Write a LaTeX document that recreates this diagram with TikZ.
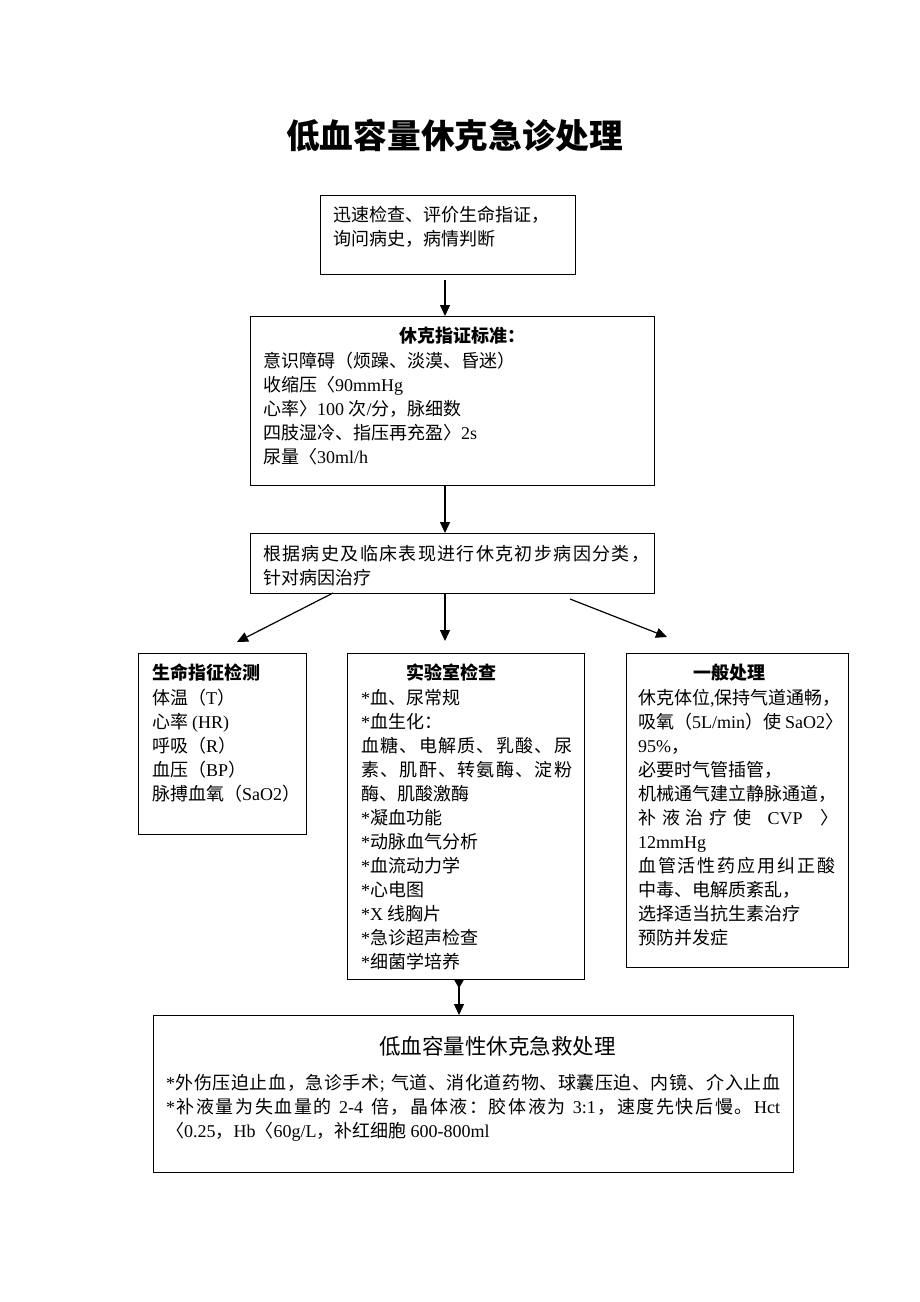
\documentclass[tikz,border=0pt]{standalone}
\usepackage{fontspec}
\setmainfont{Liberation Serif}
\newfontfamily\cjkf{Noto Sans CJK SC}
\newfontfamily\latf{Liberation Serif}
\usetikzlibrary{arrows.meta}
\newcount\myc
\newXeTeXintercharclass\cjkcls
\def\setcls#1#2{\myc=#1\relax\loop\XeTeXcharclass\myc=\cjkcls\relax\ifnum\myc<#2\relax\advance\myc by 1\repeat}
\setcls{"3000}{"303F}
\setcls{"4E00}{"9FFF}
\setcls{"FF00}{"FFEF}
\XeTeXinterchartokenstate=1
\XeTeXinterchartoks 4095 \cjkcls = {\cjkf}
\XeTeXinterchartoks 0 \cjkcls = {\hskip0pt plus1pt\cjkf}
\XeTeXinterchartoks \cjkcls 0 = {\hskip0pt plus1pt\latf}
\XeTeXinterchartoks 4095 0 = {\latf}
\XeTeXinterchartoks \cjkcls \cjkcls = {\hskip0pt plus1pt}
\newcommand\jl[2]{\makebox[#1pt][s]{#2}}
\tikzset{
  box/.style={draw, line width=1.2pt, inner sep=0pt, anchor=north west},
  txt/.style={inner sep=0pt, align=left, anchor=base west, font=\fontsize{18}{24}\selectfont},
  head/.style={inner sep=0pt, anchor=base west, font=\fontsize{18}{24}\selectfont\bfseries},
  arr/.style={line width=1.2pt, -{Triangle[length=11pt,width=10pt]}}
}
\begin{document}
\begin{tikzpicture}[x=1pt,y=-1pt]
\useasboundingbox (0,0) rectangle (920,1302);
\fill[white] (0,0) rectangle (920,1302);
\node[inner sep=0pt, anchor=base west, font=\fontsize{33.7}{40}\selectfont\bfseries] (title) at (286,148) {低血容量休克急诊处理};
% boxes
\node[box, minimum width=255pt, minimum height=79pt] (b1) at (320,195) {};
\node[box, minimum width=404pt, minimum height=169pt] (b2) at (250,316) {};
\node[box, minimum width=404pt, minimum height=60pt] (b3) at (250,533) {};
\node[box, minimum width=168pt, minimum height=181pt] (b4) at (138,653) {};
\node[box, minimum width=237pt, minimum height=326pt] (b5) at (347,653) {};
\node[box, minimum width=222pt, minimum height=314pt] (b6) at (626,653) {};
\node[box, minimum width=640pt, minimum height=157pt] (b7) at (153,1015) {};
% texts (base anchor = baseline of the last line)
\node[txt] (t1) at (333,245) {迅速检查、评价生命指证，\\询问病史，病情判断};
\node[head] (h2) at (399,342) {休克指证标准：};
\node[txt] (t2) at (263,463) {意识障碍（烦躁、淡漠、昏迷）\\收缩压〈90mmHg\\心率〉100 次/分，脉细数\\四肢湿冷、指压再充盈〉2s\\尿量〈30ml/h};
\node[txt] (t3) at (263,584) {\jl{386}{根据病史及临床表现进行休克初步病因分类，}\\针对病因治疗};
\node[head] (h4) at (152,679) {生命指征检测};
\node[txt] (t4) at (152,800) {体温（T）\\心率 (HR)\\呼吸（R）\\血压（BP）\\脉搏血氧（SaO2）};
\node[head] (h5) at (406,679) {实验室检查};
\node[txt] (t5) at (361,968) {*血、尿常规\\*血生化：\\\jl{211}{血糖、电解质、乳酸、尿}\\\jl{211}{素、肌酐、转氨酶、淀粉}\\酶、肌酸激酶\\*凝血功能\\*动脉血气分析\\*血流动力学\\*心电图\\*X 线胸片\\*急诊超声检查\\*细菌学培养};
\node[head] (h6) at (693,679) {一般处理};
\node[txt] (t6) at (638,944) {休克体位,保持气道通畅，\\吸氧（5L/min）使 SaO2〉\\95\%，\\必要时气管插管，\\机械通气建立静脉通道，\\\jl{200}{补液治疗使 CVP 〉}\\12mmHg\\\jl{197}{血管活性药应用纠正酸}\\中毒、电解质紊乱，\\选择适当抗生素治疗\\预防并发症};
\node[inner sep=0pt, anchor=base west, font=\fontsize{21.5}{26}\selectfont] (h7) at (379,1054) {低血容量性休克急救处理};
\node[txt] (t7) at (166,1137) {\jl{614}{*外伤压迫止血，急诊手术; 气道、消化道药物、球囊压迫、内镜、介入止血}\\\jl{614}{*补液量为失血量的 2-4 倍，晶体液：胶体液为 3:1，速度先快后慢。Hct}\\〈0.25，Hb〈60g/L，补红细胞 600-800ml};
% arrow endpoints
\coordinate (cx) at (445,0);
\coordinate (s1) at (445,280);
\coordinate (eL) at (237,642);
\coordinate (sL) at (333,593);
\coordinate (eM) at (445,641);
\coordinate (sR) at (570,599);
\coordinate (eR) at (667,637);
\coordinate (cx2) at (459,0);
% connectors
\draw[arr] (s1) -- (s1 |- b2.north);
\draw[arr] (b2.south -| cx) -- (b3.north -| cx);
\draw[arr] (sL) -- (eL);
\draw[arr] (b3.south -| cx) -- (eM);
\draw[arr] (sR) -- (eR);
\draw[line width=1.2pt, {Triangle[reversed,length=8pt,width=9pt]}-{Triangle[length=11pt,width=10pt]}] (b5.south -| cx2) -- (b7.north -| cx2);
\end{tikzpicture}
\end{document}
